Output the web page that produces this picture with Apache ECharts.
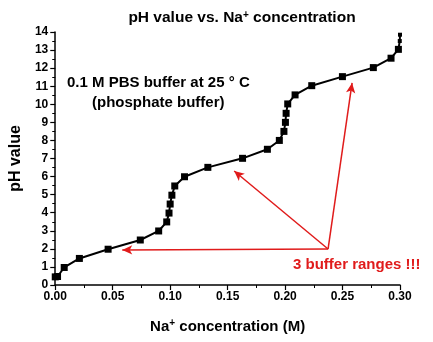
<!DOCTYPE html>
<html>
<head>
<meta charset="utf-8">
<script src="https://cdn.jsdelivr.net/npm/echarts@6/dist/echarts.min.js"></script>
<style>
  html, body { margin: 0; padding: 0; background: #fff; }
  #chart { width: 433px; height: 342px; }
</style>
</head>
<body>
<div id="chart"></div>
<script>
// Na+ concentration (M) and measured pH
var naConc = [0.0, 0.002, 0.0078, 0.021, 0.046, 0.074, 0.09, 0.097, 0.099, 0.1, 0.1015, 0.104, 0.1125,
  0.1328, 0.163, 0.1846, 0.195, 0.199, 0.2003, 0.2009, 0.2023, 0.2087, 0.2232, 0.2499, 0.2768, 0.2922, 0.2986, 0.2998, 0.3];
var phValue = [0.45, 0.47, 0.97, 1.47, 1.98, 2.49, 2.99, 3.49, 3.98, 4.48, 4.97, 5.48, 5.99,
  6.51, 7.01, 7.51, 8.0, 8.5, 9.0, 9.5, 10.02, 10.52, 11.03, 11.53, 12.03, 12.55, 13.04, 13.5, 13.85];

// arrows: common start, three tips (data coordinates)
var arrowStart = [0.2374, 1.99];
var arrowTips = [[0.0583, 1.94], [0.1557, 6.31], [0.2583, 11.18]];

var xTicks = { min: 0, max: 0.3, step: 0.05 };
var yTicks = { min: 0, max: 14, step: 1 };

var points = naConc.map(function (x, i) { return [x, phValue[i]]; });

var chart = echarts.init(document.getElementById('chart'));
var font = 'Liberation Sans, Arial, sans-serif';

chart.setOption({
  animation: false,
  title: {
    text: '{t|pH value vs. Na}{s|+}{t| concentration}',
    left: 237,
    textAlign: 'center',
    top: 5,
    textStyle: {
      rich: {
        t: { fontFamily: font, fontWeight: 'bold', fontSize: 15.5, color: '#000' },
        s: { fontFamily: font, fontWeight: 'bold', fontSize: 10, color: '#000', verticalAlign: 'top', padding: [0, 0, 6, 0] }
      }
    }
  },
  grid: { left: 55, right: 33, top: 32, bottom: 57 },
  xAxis: {
    type: 'value',
    min: xTicks.min, max: xTicks.max, interval: xTicks.step,
    name: '{t|Na}{s|+}{t| concentration (M)}',
    nameLocation: 'middle',
    nameGap: 33,
    nameTextStyle: {
      rich: {
        t: { fontFamily: font, fontWeight: 'bold', fontSize: 15, color: '#000' },
        s: { fontFamily: font, fontWeight: 'bold', fontSize: 10, color: '#000', verticalAlign: 'top', padding: [0, 0, 7, 0] }
      }
    },
    axisLine: { lineStyle: { color: '#000', width: 1.5 } },
    axisTick: { inside: false, length: 5, lineStyle: { color: '#000', width: 1.2 } },
    minorTick: { show: true, splitNumber: 2, length: 3, lineStyle: { color: '#000', width: 1 } },
    axisLabel: {
      color: '#000', fontFamily: font, fontWeight: 'bold', fontSize: 12, margin: 6,
      formatter: function (v) { return v.toFixed(2); }
    },
    splitLine: { show: false }
  },
  yAxis: {
    type: 'value',
    min: yTicks.min, max: yTicks.max, interval: yTicks.step,
    name: 'pH value',
    nameLocation: 'middle',
    nameGap: 27,
    nameTextStyle: { fontFamily: font, fontWeight: 'bold', fontSize: 16, color: '#000' },
    axisLine: { show: true, lineStyle: { color: '#000', width: 1.5 } },
    axisTick: { show: true, inside: false, length: 5, lineStyle: { color: '#000', width: 1.2 } },
    minorTick: { show: true, splitNumber: 2, length: 3, lineStyle: { color: '#000', width: 1 } },
    axisLabel: { color: '#000', fontFamily: font, fontWeight: 'bold', fontSize: 12, margin: 7 },
    splitLine: { show: false }
  },
  series: [{
    type: 'line',
    data: points,
    symbol: 'rect',
    symbolSize: function (v, p) { return p.dataIndex >= naConc.length - 2 ? 4 : 7; },
    lineStyle: { color: '#000', width: 2 },
    itemStyle: { color: '#000' },
    markLine: {
      silent: true,
      symbol: ['none', 'arrow'],
      symbolSize: [7, 10],
      label: { show: false },
      lineStyle: { color: '#e01b1b', width: 1.5, type: 'solid' },
      data: arrowTips.map(function (t) {
        return [{ coord: arrowStart }, { coord: t }];
      })
    }
  }],
  graphic: [
    {
      type: 'text', left: 67, top: 75,
      style: { text: '0.1 M PBS buffer at 25 ° C', font: 'bold 15px ' + font, fill: '#000' }
    },
    {
      type: 'text', left: 92, top: 95,
      style: { text: '(phosphate buffer)', font: 'bold 15px ' + font, fill: '#000' }
    },
    {
      type: 'text', left: 293, top: 257,
      style: { text: '3 buffer ranges !!!', font: 'bold 15px ' + font, fill: '#e01b1b' }
    }
  ]
});
</script>
</body>
</html>
